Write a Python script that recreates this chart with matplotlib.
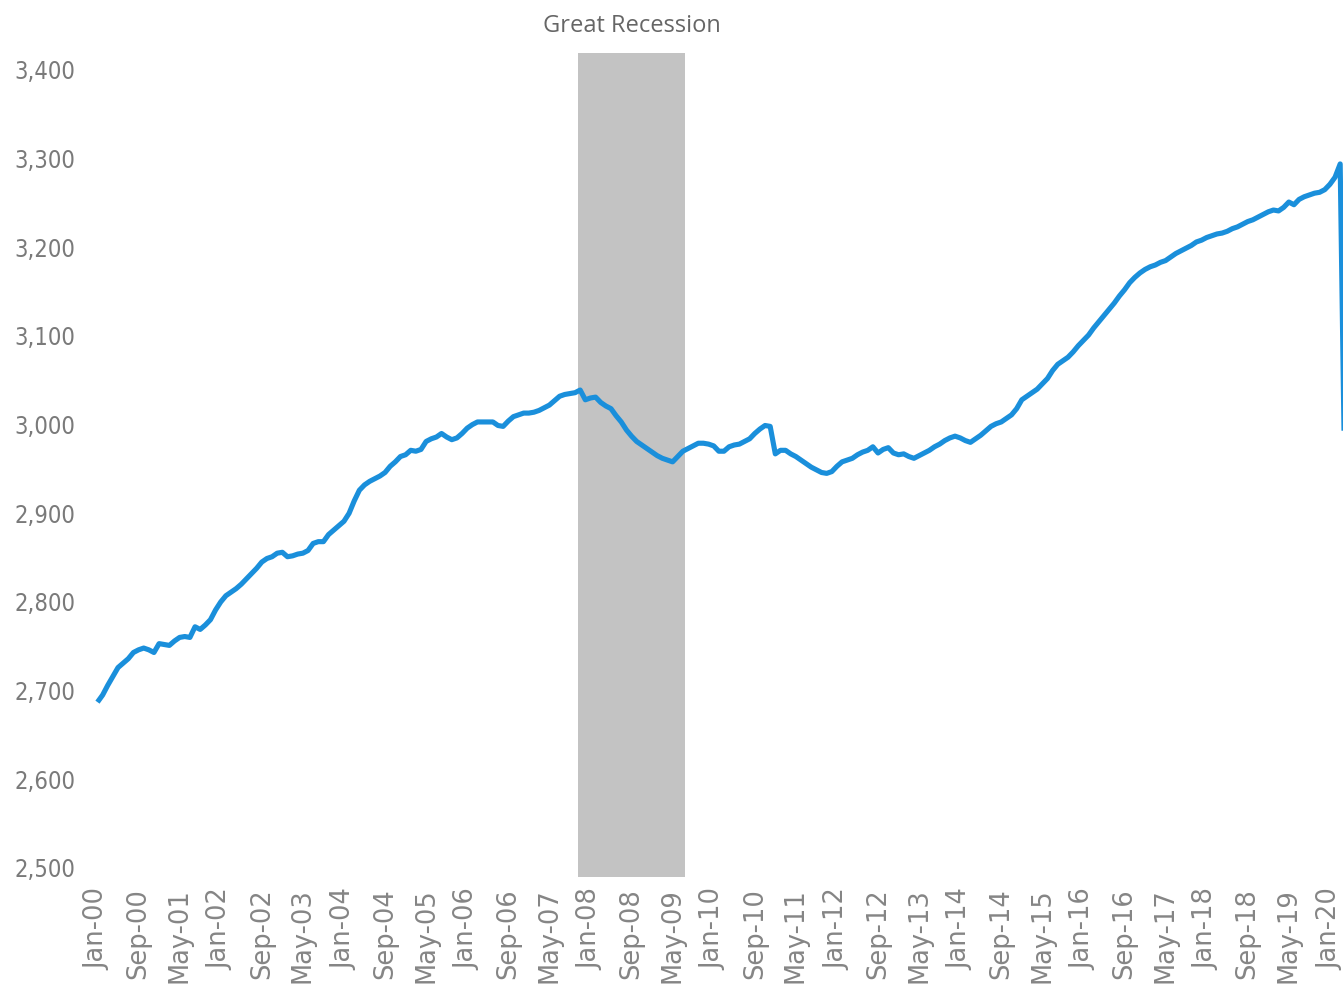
import matplotlib
matplotlib.use("Agg")
import matplotlib.pyplot as plt
import numpy as np

# ---- data (monthly, Jan-2000 .. Apr-2020) ----
values_2000 = [2687, 2695, 2706, 2716, 2726, 2731, 2736, 2743, 2746, 2748, 2746, 2743]
values_2001 = [2753, 2752, 2751, 2756, 2760, 2761, 2760, 2772, 2769, 2774, 2780, 2791]
values_2002 = [2800, 2807, 2811, 2815, 2820, 2826, 2832, 2838, 2845, 2849, 2851, 2855]
values_2003 = [2856, 2851, 2852, 2854, 2855, 2858, 2866, 2868, 2868, 2876, 2881, 2886]
values_2004 = [2891, 2900, 2914, 2926, 2932, 2936, 2939, 2942, 2946, 2953, 2958, 2964]
values_2005 = [2966, 2971, 2970, 2972, 2981, 2984, 2986, 2990, 2986, 2983, 2985, 2990]
values_2006 = [2996, 3000, 3003, 3003, 3003, 3003, 2999, 2998, 3004, 3009, 3011, 3013]
values_2007 = [3013, 3014, 3016, 3019, 3022, 3027, 3032, 3034, 3035, 3036, 3039, 3028]
values_2008 = [3030, 3031, 3025, 3021, 3018, 3010, 3003, 2994, 2987, 2981, 2977, 2973]
values_2009 = [2969, 2965, 2962, 2960, 2958, 2964, 2970, 2973, 2976, 2979, 2979, 2978]
values_2010 = [2976, 2970, 2970, 2975, 2977, 2978, 2981, 2984, 2990, 2995, 2999, 2998]
values_2011 = [2967, 2971, 2971, 2967, 2964, 2960, 2956, 2952, 2949, 2946, 2945, 2947]
values_2012 = [2953, 2958, 2960, 2962, 2966, 2969, 2971, 2975, 2968, 2972, 2974, 2968]
values_2013 = [2966, 2967, 2964, 2962, 2965, 2968, 2971, 2975, 2978, 2982, 2985, 2987]
values_2014 = [2985, 2982, 2980, 2984, 2988, 2993, 2998, 3001, 3003, 3007, 3011, 3018]
values_2015 = [3028, 3032, 3036, 3040, 3046, 3052, 3061, 3068, 3072, 3076, 3082, 3089]
values_2016 = [3095, 3101, 3109, 3116, 3123, 3130, 3137, 3145, 3152, 3160, 3166, 3171]
values_2017 = [3175, 3178, 3180, 3183, 3185, 3189, 3193, 3196, 3199, 3202, 3206, 3208]
values_2018 = [3211, 3213, 3215, 3216, 3218, 3221, 3223, 3226, 3229, 3231, 3234, 3237]
values_2019 = [3240, 3242, 3241, 3245, 3251, 3248, 3254, 3257, 3259, 3261, 3262, 3265]
values_2020 = [3271, 3279, 3294, 2890]

series = (values_2000 + values_2001 + values_2002 + values_2003 + values_2004 +
          values_2005 + values_2006 + values_2007 + values_2008 + values_2009 +
          values_2010 + values_2011 + values_2012 + values_2013 + values_2014 +
          values_2015 + values_2016 + values_2017 + values_2018 + values_2019 +
          values_2020)

tick_labels = ["Jan-00", "Sep-00", "May-01", "Jan-02", "Sep-02", "May-03", "Jan-04",
               "Sep-04", "May-05", "Jan-06", "Sep-06", "May-07", "Jan-08", "Sep-08",
               "May-09", "Jan-10", "Sep-10", "May-11", "Jan-12", "Sep-12", "May-13",
               "Jan-14", "Sep-14", "May-15", "Jan-16", "Sep-16", "May-17", "Jan-18",
               "Sep-18", "May-19", "Jan-20"]
tick_step = 8  # months between tick labels

y_ticks = [2500, 2600, 2700, 2800, 2900, 3000, 3100, 3200, 3300, 3400]

recession_span = [93.6, 114.4]   # month index (months since Jan-00): ~Dec-07 .. Jun-09
recession_label = "Great Recession"

# ---- figure ----
W, H = 1343, 998
fig = plt.figure(figsize=(W / 100, H / 100), dpi=100)
ax_left, ax_right, ax_top, ax_bottom = 85, 1343, 53, 877
ax = fig.add_axes([ax_left / W, 1 - ax_bottom / H, (ax_right - ax_left) / W,
                   (ax_bottom - ax_top) / H])

months = np.arange(len(series))
ax.axvspan(recession_span[0], recession_span[1], color="#c3c3c3", lw=0, zorder=1)
ax.plot(months, series, color="#1a8fdb", lw=3.7, solid_joinstyle="round",
        solid_capstyle="butt", zorder=3)

ax.set_xlim(-2.43, 242.55)
ax.set_ylim(2489.8, 3419.1)

for s in ax.spines.values():
    s.set_visible(False)

ax.set_yticks(y_ticks)
ax.set_yticklabels([f"{v:,}" for v in y_ticks], family=["DejaVu Sans"],
                   fontstretch="condensed", fontsize=17, color="#7a7a7a")
ax.set_xticks(np.arange(0, tick_step * len(tick_labels), tick_step))
ax.set_xticklabels(tick_labels, rotation=90, ha="center", va="top",
                   family=["DejaVu Sans"], fontsize=18.5, color="#858585")
ax.tick_params(axis="both", length=0)
ax.tick_params(axis="y", pad=7)
ax.tick_params(axis="x", pad=8)

ax.text((recession_span[0] + recession_span[1]) / 2, 1.018, recession_label,
        transform=ax.get_xaxis_transform(), ha="center", va="bottom",
        family=["Open Sans", "DejaVu Sans"], fontsize=17, color="#666666")

fig.savefig("out.png", dpi=100)
